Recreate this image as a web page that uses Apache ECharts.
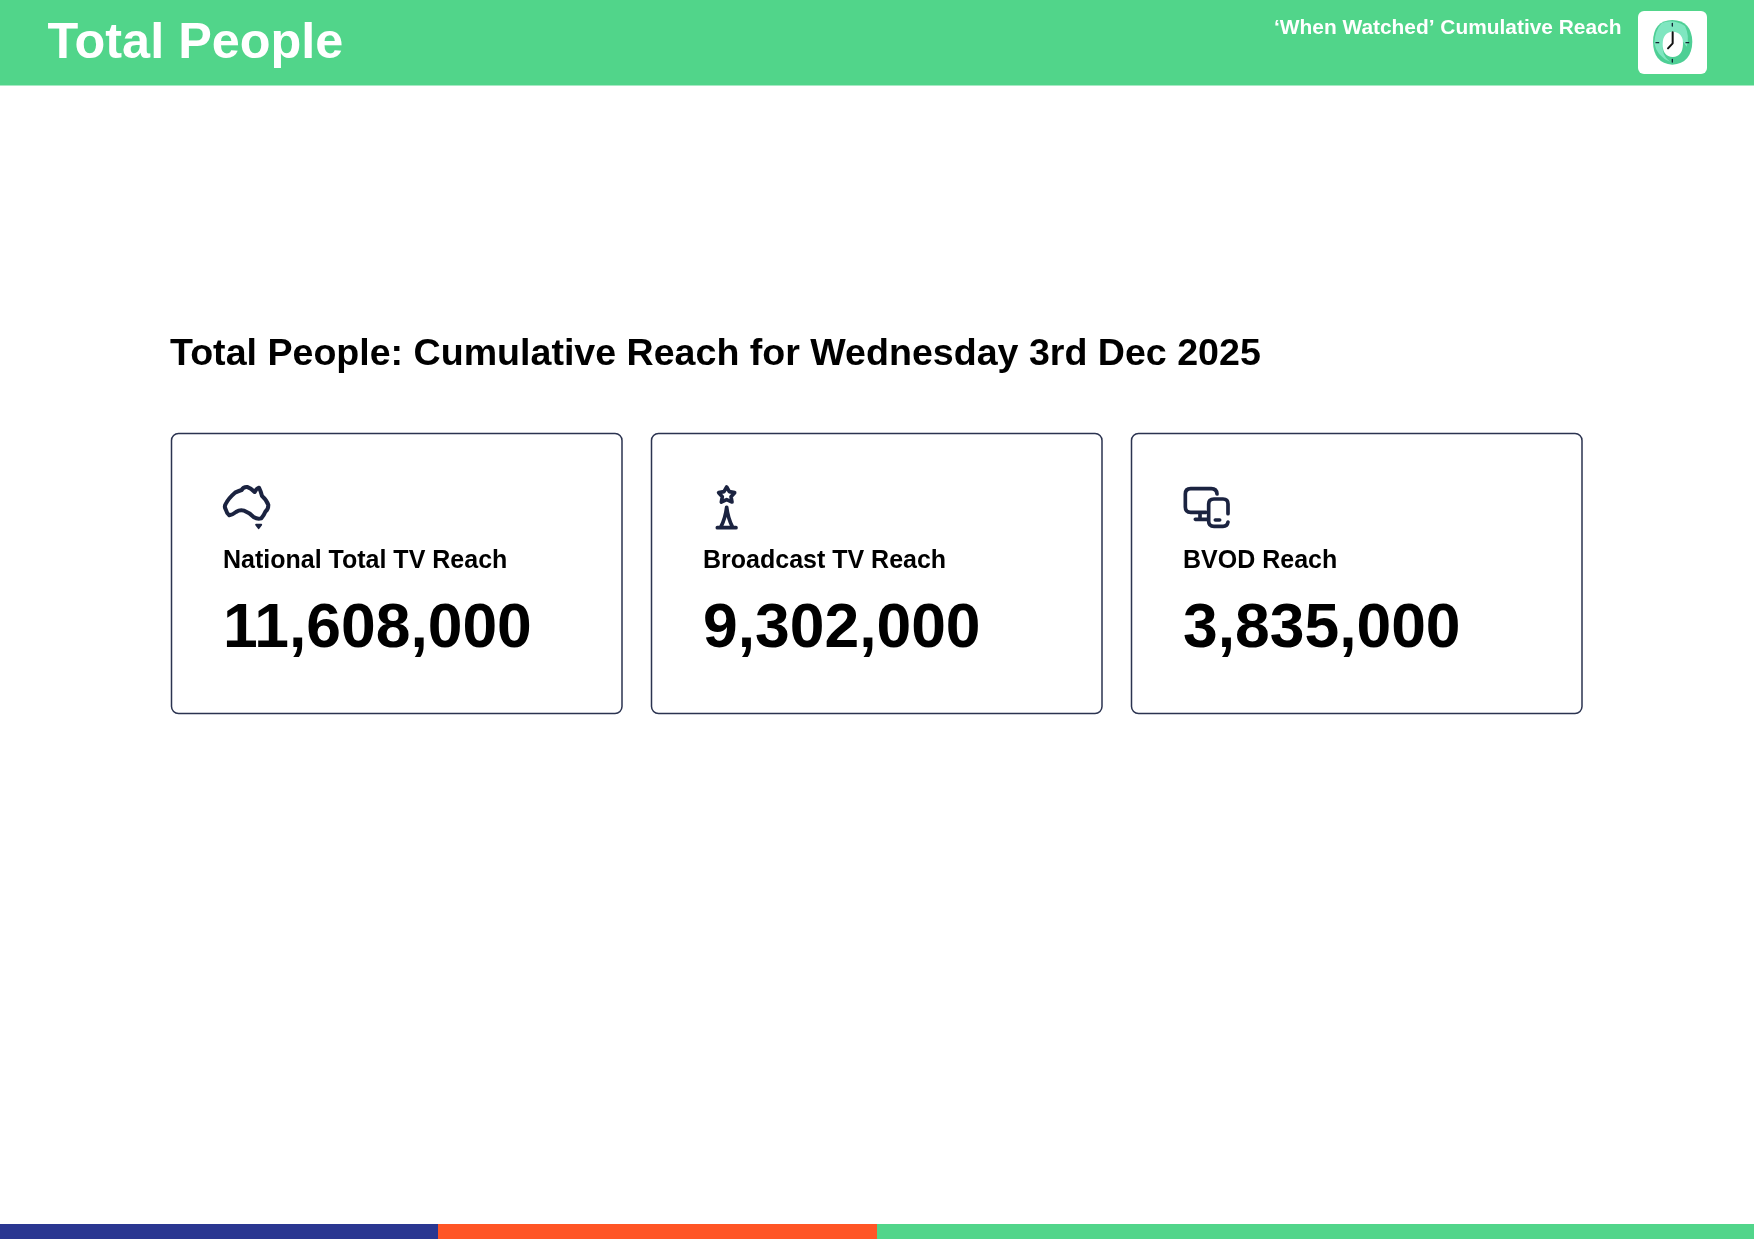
<!DOCTYPE html>
<html><head><meta charset="utf-8">
<style>html,body{margin:0;padding:0;background:#fff}#c{width:1754px;height:1241px}</style>
<script src="https://cdn.jsdelivr.net/npm/echarts@6/dist/echarts.min.js"></script>
</head><body><div id="c"></div>
<script>
const pageTitle = 'Total People';
const subTitle = '‘When Watched’ Cumulative Reach';
const heading = 'Total People: Cumulative Reach for Wednesday 3rd Dec 2025';
const cardLabels = ['National Total TV Reach', 'Broadcast TV Reach', 'BVOD Reach'];
const cardValues = [11608000, 9302000, 3835000];
const FONT = '"Liberation Sans", Arial, sans-serif';
const GREEN = '#51D58A', NAVY = '#1B2340', BLUE = '#2A3791', ORANGE = '#FF5526';
const fmt = v => v.toLocaleString('en-US');
const cardX = [171.5, 651.5, 1131.5];

function txt(x, y, text, size, fill) {
  return {type:'text', x, y, style:{text, fill, font:'bold '+size+'px '+FONT, textAlign:'left', textVerticalAlign:'middle'}};
}
function rect(x, y, width, height, fill, r) {
  return {type:'rect', shape:{x, y, width, height, r:r||0}, style:{fill}};
}
function icon(x, y, pathData, lineWidth, fill, stroke, scale) {
  const s = scale || 1/3;
  return {type:'path', x, y, scaleX:s, scaleY:s,
    shape:{pathData},
    style:{fill:fill||'none', stroke:stroke||NAVY, lineWidth:lineWidth, lineCap:'round', lineJoin:'round'}};
}
const ausPath = 'M197 252 Q205 235 225 218 Q238 212 245 210 Q250 200 262 201 Q272 204 284 216 Q290 205 297 203 Q303 215 306 228 Q320 240 325 255 Q325 268 316 275 Q312 285 304 295 Q292 298 282 292 Q268 278 252 272 Q240 268 228 276 Q218 284 208 286 Q200 280 197 268 Q192 260 197 252';
const tasPath = 'M288 314 L304 314 L296 325 Z';
const starPath = 'M260 201 L268 215 L284 218 L273 230 L276 246 L260 239 L244 246 L247 230 L236 218 L252 215 Z';
const towerPath = 'M260 262 Q256 295 243 320 M260 262 Q264 295 277 320 M232 323 L288 323';
const monitorPath = 'M258 277 L212 277 Q196 277 196 261 L196 222 Q196 206 212 206 L274 206 Q290 206 291 222 M240 278 L240 298 M226 298 L262 298';
const phonePath = 'M324 281 L324 252 Q324 237 309 237 L282 237 Q266 237 266 252 L266 304 Q266 319 282 319 L309 319 Q322 319 324 306 M286 300 L299 300';
// clock face, in zoom-crop units (3 per page pixel, origin 1240,0)
const clockOuter = 'M1297 60 Q1355 62 1357 125 Q1355 190 1297 194 Q1240 190 1239 125 Q1240 62 1297 60 Z';
const clockLight = 'M1265 70 Q1297 55 1335 78 Q1350 110 1340 140 Q1310 90 1270 130 Q1262 165 1290 185 Q1250 170 1243 130 Q1245 90 1265 70 Z';
const clockInner = 'M1298 95 Q1330 97 1329 132 Q1328 170 1298 171 Q1268 170 1268 132 Q1268 97 1298 95 Z';

const elements = [
  rect(0, 0, 1754, 85.5, GREEN),
  txt(47.5, 44.2, pageTitle, 50.4, '#fff'),
  txt(1274, 28, subTitle, 20.9, '#fff'),
  rect(1638, 11, 69, 63, '#fff', 6),
  txt(170, 355, heading, 37.6, '#000'),
  rect(0, 1224, 438, 15, BLUE),
  rect(438, 1224, 439, 15, ORANGE),
  rect(877, 1224, 877, 15, GREEN)
];

cardLabels.forEach((label, i) => {
  const x = cardX[i];
  elements.push({type:'rect', shape:{x, y:433.5, width:450.5, height:280, r:7}, style:{fill:'#fff', stroke:'#2B3350', lineWidth:1.5}});
  elements.push(txt(x + 51.5, 561, label, 25, '#000'));
  elements.push(txt(x + 51.5, 630, fmt(cardValues[i]), 62.4, '#000'));
});

const iconDefs = [
  [160, 420, ausPath, 12],
  [160, 420, tasPath, 5, NAVY],
  [640, 420, starPath, 11, '#fff'],
  [640, 420, towerPath, 11],
  [1120, 420, monitorPath, 11],
  [1120, 420, phonePath, 11],
  [1240, 0, clockOuter, 0, '#4ECF95', 'none'],
  [1240, 0, clockLight, 0, '#7FE6C0', 'none'],
  [1240, 0, clockInner, 0, '#fff', 'none'],
  [1240, 0, 'M1298 97 L1298 130 L1284 145', 6, 'none', '#111'],
  [1240, 0, 'M1297 70 L1297 78 M1297 178 L1297 186 M1248 128 L1256 128 M1338 128 L1346 128', 4, 'none', '#123']
];

const chart = echarts.init(document.getElementById('c'), null, {renderer:'canvas'});
chart.setOption({
  animation:false,
  backgroundColor:'#fff',
  graphic:{elements},
  series:[{
    type:'custom', coordinateSystem:'none', z:10, silent:true, data:[0],
    renderItem: () => ({type:'group', children: iconDefs.map(d => icon.apply(null, d))})
  }]
});
</script></body></html>
